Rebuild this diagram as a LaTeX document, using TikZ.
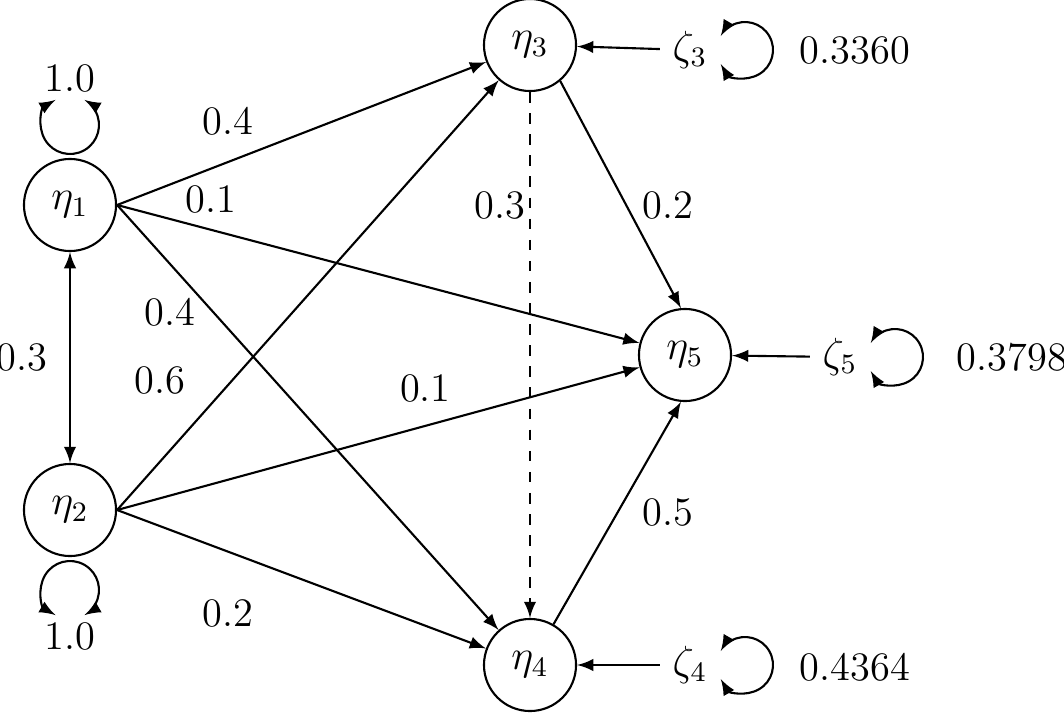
\documentclass[tikz,border=0pt]{standalone}
\usepackage{amsmath}
\usetikzlibrary{arrows,calc}
\tikzstyle{lat}=[circle, draw, minimum size=0.92cm, inner sep=0pt, line width=0.6pt]
\tikzstyle{dgraph}=[->, >=latex, line width=0.6pt]
\tikzstyle{lbl}=[inner sep=1pt]
\begin{document}
\begin{tikzpicture}[x=0.01cm,y=-0.01cm,dgraph,font=\fontsize{11.5}{13}\selectfont]
\useasboundingbox (0,0) rectangle (1064,712);
\node[lat] (e1) at (70,205) {$\eta_1$};
\node[lat] (e2) at (70,510) {$\eta_2$};
\node[lat] (e3) at (530,45) {$\eta_3$};
\node[lat] (e4) at (530,665) {$\eta_4$};
\node[lat] (e5) at (685,355) {$\eta_5$};
\node (z3) at (690,50) {$\zeta_3$};
\node (z4) at (690,665) {$\zeta_4$};
\node (z5) at (840,357) {$\zeta_5$};
\node[lbl] (v3) at (855,50) {0.3360};
\node[lbl] (v4) at (855,667) {0.4364};
\node[lbl] (v5) at (1012,357) {0.3798};
% paths
\draw (e1.east) -- (e3) node[pos=0.3, above=4pt] {0.4};
\draw (e1.east) -- (e5) node[pos=0.18, above=1pt] {0.1};
\draw (e1.east) -- (e4);
\node[lbl] at (170,312) {0.4};
\draw (e2.east) -- (e3);
\node[lbl] at (160,380) {0.6};
\draw (e2.east) -- (e5) node[pos=0.59, above=3pt] {0.1};
\draw (e2.east) -- (e4) node[pos=0.3, below=10pt] {0.2};
\draw[dashed] (e3) -- (e4);
\node[lbl] at (500,205) {0.3};
\draw (e3.-50) -- (e5.95);
\node[lbl] at (668,205) {0.2};
\draw (e4.60) -- (e5.-95);
\node[lbl] at (668,512) {0.5};
\draw[<->] (e1) -- (e2);
\node[lbl] at (22,357) {0.3};
\draw (z3) -- (e3);
\draw (z4) -- (e4);
\draw (z5) -- (e5);
% variances
\coordinate (c1) at (70,125);
\coordinate (c2) at (70,590);
\coordinate (c3) at (745,50);
\coordinate (c4) at (745,665);
\coordinate (c5) at (895,357);
\draw[<->] ($(c1)+(240:29)$) arc (240:-60:29);
\draw[<->] ($(c2)+(120:29)$) arc (120:420:29);
\draw[<->] ($(c3)+(150:28)$) arc (150:-150:28);
\draw[<->] ($(c4)+(150:28)$) arc (150:-150:28);
\draw[<->] ($(c5)+(150:28)$) arc (150:-150:28);
\node[lbl] at (70,78) {1.0};
\node[lbl] at (70,636) {1.0};
\end{tikzpicture}
\end{document}
